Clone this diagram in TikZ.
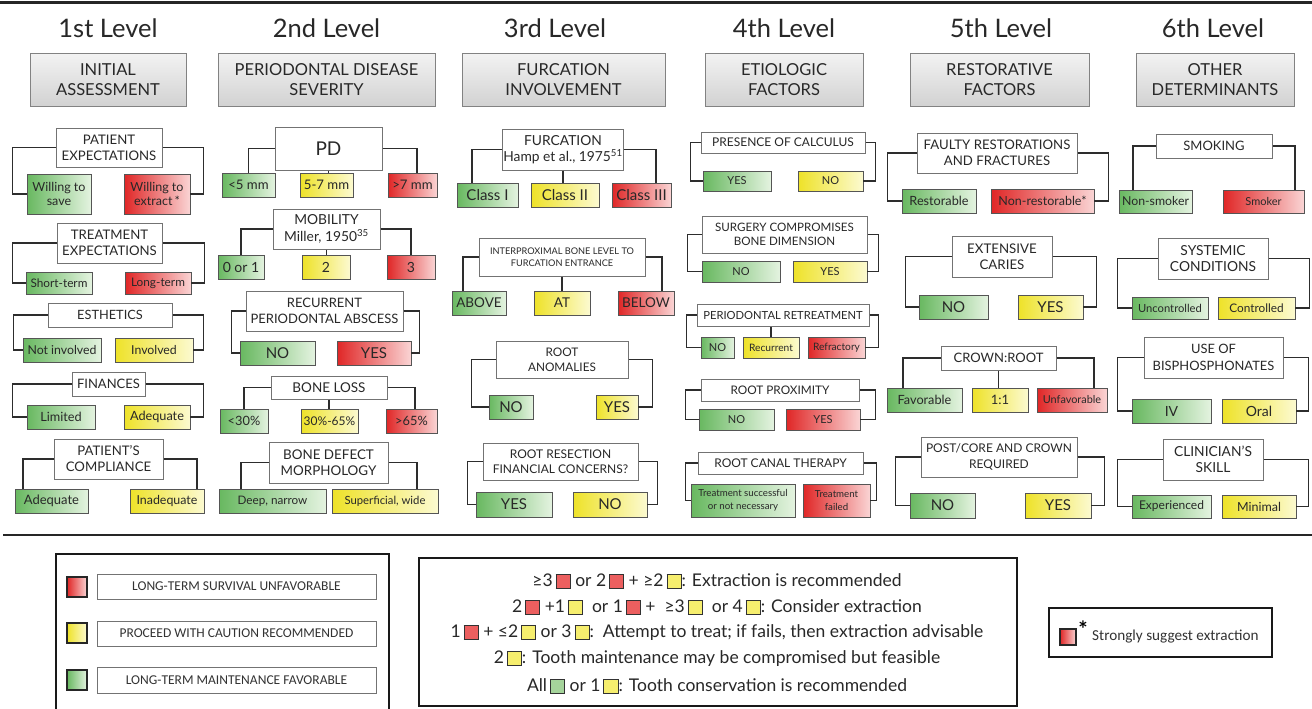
\documentclass[tikz,border=0pt]{standalone}
\usepackage{fontspec}
\setmainfont{Lato}
\newfontfamily\calfont{Carlito}
\usetikzlibrary{shadows}
\definecolor{txt}{RGB}{40,40,40}
\definecolor{hdb}{RGB}{130,130,130}
\definecolor{hdT}{RGB}{242,242,242}
\definecolor{hdB}{RGB}{210,210,210}
\definecolor{qb}{RGB}{115,115,115}
\definecolor{cb}{RGB}{85,85,85}
\definecolor{cl}{RGB}{45,45,45}
\definecolor{gL}{RGB}{104,184,96}
\definecolor{gR}{RGB}{228,243,224}
\definecolor{rL}{RGB}{224,38,38}
\definecolor{rR}{RGB}{250,212,212}
\definecolor{yL}{RGB}{238,226,40}
\definecolor{yR}{RGB}{252,250,208}
\definecolor{sqR}{RGB}{236,95,95}
\definecolor{sqY}{RGB}{246,238,110}
\definecolor{sqG}{RGB}{165,212,155}
\definecolor{sqb}{RGB}{50,50,50}
\newcommand\fs[2]{\fontsize{#1}{#2}\selectfont}
\newcommand\sq[1]{\raisebox{-1.5pt}{\fcolorbox{sqb}{#1}{\rule{0pt}{13.5pt}\rule{13.5pt}{0pt}}}}
\newcommand{\BX}[7]{\node[#1, minimum width={#5-#3}, minimum height={#6-#4}] (#2) at ({(#3+#5)/2},{(#4+#6)/2}) {#7};}
\newcommand\sideC[4]{\draw[conn] (#1.west) -- ++(-#3,0) |- (#2.west);}
\newcommand\sideD[4]{\draw[conn] (#1.east) -- ++(#3,0) |- (#2.east);}
\tikzset{
  base/.style={align=center, text=txt, inner sep=0.5pt},
  shd/.style={drop shadow={shadow xshift=1.3pt,shadow yshift=-1.3pt,opacity=.28}},
  hd/.style={base, draw=hdb, line width=1pt, top color=hdT, bottom color=hdB, font=\fs{16.5}{20}, shd},
  q/.style={base, draw=qb, line width=1pt, fill=white, shd},
  cc/.style={base, draw=cb, line width=0.9pt, inner sep=0pt, shd},
  gC/.style={cc, left color=gL, right color=gR},
  yC/.style={cc, left color=yL, right color=yR},
  rC/.style={cc, left color=rL, right color=rR},
  conn/.style={draw=cl, line width=1.5pt},
  ttl/.style={text=txt, font=\fs{25.5}{28}},
  frame/.style={draw=black!90, line width=1.8pt},
  ltb/.style={draw=black!55, line width=0.8pt, fill=white, text=black!80, font=\calfont\fs{13.5}{15}},
  lsq/.style={draw=black!85, line width=1.2pt, minimum size=20pt, inner sep=0pt},
  et/.style={text=txt, font=\fs{17.5}{20}, inner sep=0pt},
}
\begin{document}
\begin{tikzpicture}[x=1pt,y=-1pt]
\useasboundingbox (0,0) rectangle (1312,709);
\fill[white] (0,0) rectangle (1312,709);
\setlength\fboxsep{0pt}\setlength\fboxrule{0.8pt}
% rules
\draw[line width=3pt, color=black!85] (0,3) -- (1312,3);
\draw[line width=2.5pt, color=black!85] (3,535) -- (1312,535);
% headers and titles
\BX{hd}{H1}{30}{54}{186}{106}{INITIAL\\ASSESSMENT}
\BX{hd}{H2}{218}{54}{435}{106}{PERIODONTAL DISEASE\\SEVERITY}
\BX{hd}{H3}{462}{54}{665}{106}{FURCATION\\INVOLVEMENT}
\BX{hd}{H4}{705}{54}{863}{106}{ETIOLOGIC\\FACTORS}
\BX{hd}{H5}{910}{54}{1089}{106}{RESTORATIVE\\FACTORS}
\BX{hd}{H6}{1136}{54}{1294}{106}{OTHER\\DETERMINANTS}
\node[ttl] (T1) at (108,28) {1st Level};
\node[ttl] (T2) at (326.5,28) {2nd Level};
\node[ttl] (T3) at (555,28) {3rd Level};
\node[ttl] (T4) at (784,28) {4th Level};
\node[ttl] (T5) at (1001,28) {5th Level};
\node[ttl] (T6) at (1213,28) {6th Level};
% ---------- column 1
\BX{q,font=\fs{13.2}{16}}{Q1a}{56}{128}{162}{167}{PATIENT\\EXPECTATIONS}
\BX{gC,font=\fs{12.5}{14}}{C1a1}{27}{174}{91}{214}{Willing to\\save}
\BX{rC,font=\fs{12.5}{14}}{C1a2}{124}{174}{190}{214}{Willing to\\extract\,*}
\sideC{Q1a}{C1a1}{43}{}\sideD{Q1a}{C1a2}{41}{}
\BX{q,font=\fs{13.2}{16}}{Q1b}{57}{223}{162}{263}{TREATMENT\\EXPECTATIONS}
\BX{gC,font=\fs{11.8}{14}}{C1b1}{26}{272}{92}{294}{Short-term}
\BX{rC,font=\fs{11.8}{14}}{C1b2}{125}{272}{191}{294}{Long-term}
\sideC{Q1b}{C1b1}{44}{}\sideD{Q1b}{C1b2}{42}{}
\BX{q,font=\fs{12.8}{15}}{Q1c}{48}{303}{172}{327}{ESTHETICS}
\BX{gC,font=\fs{12.3}{14}}{C1c1}{23}{338}{101}{362}{Not involved}
\BX{yC,font=\fs{12.3}{14}}{C1c2}{115}{338}{193}{362}{Involved}
\sideC{Q1c}{C1c1}{34}{}\sideD{Q1c}{C1c2}{31}{}
\BX{q,font=\fs{13}{15}}{Q1d}{72}{372}{145}{396}{FINANCES}
\BX{gC,font=\fs{12.7}{14}}{C1d1}{27}{405}{95}{429}{Limited}
\BX{yC,font=\fs{12.7}{14}}{C1d2}{124}{405}{190}{429}{Adequate}
\sideC{Q1d}{C1d1}{59}{}\sideD{Q1d}{C1d2}{58}{}
\BX{q,font=\fs{13.2}{16}}{Q1e}{54}{439}{163}{479}{PATIENT'S\\COMPLIANCE}
\BX{gC,font=\fs{13}{14}}{C1e1}{15}{489}{88}{513}{Adequate}
\BX{yC,font=\fs{12.4}{14}}{C1e2}{130}{489}{204}{513}{Inadequate}
\draw[conn] (Q1e.west) -| ([xshift=-28.5pt]C1e1.north);
\draw[conn] (Q1e.east) -| ([xshift=30pt]C1e2.north);
% ---------- column 2
\BX{q,font=\fs{19}{20}}{Q2a}{275}{127}{382}{170}{PD}
\BX{gC,font=\fs{13.2}{14}}{C2a1}{222}{173}{275}{197}{<5 mm}
\BX{yC,font=\fs{13.2}{14}}{C2a2}{300}{173}{353}{197}{5-7 mm}
\BX{rC,font=\fs{13.2}{14}}{C2a3}{388}{173}{437}{197}{>7 mm}
\draw[conn] (Q2a.west) -| (C2a1.north);
\draw[conn] (Q2a.east) -| ([xshift=4.5pt]C2a3.north);
\draw[conn] (Q2a.south) -- (Q2a.south |- C2a2.north);
\BX{q,font=\fs{13.8}{17}}{Q2b}{273}{209}{380}{249}{MOBILITY\\Miller, 1950\textsuperscript{35}}
\BX{gC,font=\fs{14}{15}}{C2b1}{218}{255}{264}{279}{0 or 1}
\BX{yC,font=\fs{14}{15}}{C2b2}{302}{255}{350}{279}{2}
\BX{rC,font=\fs{14}{15}}{C2b3}{387}{255}{435}{279}{3}
\draw[conn] (Q2b.west) -| (C2b1.north);
\draw[conn] (Q2b.east) -| (C2b3.north);
\draw[conn] (Q2b.south) -- (Q2b.south |- C2b2.north);
\BX{q,font=\fs{13}{16}}{Q2c}{246}{291}{403}{331}{RECURRENT\\PERIODONTAL ABSCESS}
\BX{gC,font=\fs{15}{16}}{C2c1}{240}{341}{315}{365}{NO}
\BX{rC,font=\fs{15}{16}}{C2c2}{337}{341}{411}{365}{YES}
\sideC{Q2c}{C2c1}{14}{}\sideD{Q2c}{C2c2}{16}{}
\BX{q,font=\fs{13.5}{15}}{Q2d}{271}{376}{387}{399}{BONE LOSS}
\BX{gC,font=\fs{12.8}{14}}{C2d1}{220}{409}{268}{433}{<30\%}
\BX{yC,font=\fs{12}{14}}{C2d2}{301}{409}{358}{433}{30\%-65\%}
\BX{rC,font=\fs{12.8}{14}}{C2d3}{386}{409}{437}{433}{>65\%}
\draw[conn] (Q2d.west) -| (C2d1.north);
\draw[conn] (Q2d.east) -| ([xshift=3.5pt]C2d3.north);
\draw[conn] (Q2d.south) -- (Q2d.south |- C2d2.north);
\BX{q,font=\fs{13.4}{16.5}}{Q2e}{269}{442}{388}{483}{BONE DEFECT\\MORPHOLOGY}
\BX{gC,font=\fs{11.7}{14}}{C2e1}{219}{489}{326}{513}{Deep, narrow}
\BX{yC,font=\fs{11.3}{14}}{C2e2}{332}{489}{438}{513}{Superficial, wide}
\draw[conn] (Q2e.west) -| ([xshift=-31.5pt]C2e1.north);
\draw[conn] (Q2e.east) -| ([xshift=32pt]C2e2.north);
% ---------- column 3
\BX{q,font=\fs{13.8}{16.5}}{Q3a}{503}{129}{623}{170}{FURCATION\\Hamp et al., 1975\textsuperscript{51}}
\BX{gC,font=\fs{15}{16}}{C3a1}{457}{183}{518}{207}{Class I}
\BX{yC,font=\fs{15}{16}}{C3a2}{531}{183}{599}{207}{Class II}
\BX{rC,font=\fs{15}{16}}{C3a3}{612}{183}{671}{207}{Class III}
\draw[conn] (Q3a.west) -| ([xshift=-15.5pt]C3a1.north);
\draw[conn] (Q3a.east) -| ([xshift=14.5pt]C3a3.north);
\draw[conn] (Q3a.south) -- (Q3a.south |- C3a2.north);
\BX{q,font=\fs{9.2}{12.5}}{Q3b}{479}{238}{645}{276}{INTERPROXIMAL BONE LEVEL TO\\FURCATION ENTRANCE}
\BX{gC,font=\fs{13.5}{15}}{C3b1}{452}{291}{506}{315}{ABOVE}
\BX{yC,font=\fs{13.5}{15}}{C3b2}{534}{291}{590}{315}{AT}
\BX{rC,font=\fs{13.5}{15}}{C3b3}{618}{291}{674}{315}{BELOW}
\draw[conn] (Q3b.west) -| ([xshift=-16pt]C3b1.north);
\draw[conn] (Q3b.east) -| ([xshift=16pt]C3b3.north);
\draw[conn] (Q3b.south) -- (Q3b.south |- C3b2.north);
\BX{q,font=\fs{11.8}{15}}{Q3c}{496}{341}{628}{378}{ROOT\\ANOMALIES}
\BX{gC,font=\fs{15}{16}}{C3c1}{489}{395}{533}{419}{NO}
\BX{yC,font=\fs{15}{16}}{C3c2}{596}{395}{638}{419}{YES}
\sideC{Q3c}{C3c1}{24}{}\sideD{Q3c}{C3c2}{24}{}
\BX{q,font=\fs{12}{15}}{Q3d}{483}{443}{638}{480}{ROOT RESECTION\\FINANCIAL CONCERNS?}
\BX{gC,font=\fs{15}{16}}{C3d1}{476}{492}{552}{517}{YES}
\BX{yC,font=\fs{15}{16}}{C3d2}{573}{492}{647}{517}{NO}
\sideC{Q3d}{C3d1}{15}{}\sideD{Q3d}{C3d2}{19}{}
% ---------- column 4
\BX{q,font=\fs{12}{13}}{Q4a}{701}{132}{865}{153}{PRESENCE OF CALCULUS}
\BX{gC,font=\fs{11}{12}}{C4a1}{703}{171}{771}{191}{YES}
\BX{yC,font=\fs{11}{12}}{C4a2}{798}{171}{863}{191}{NO}
\sideC{Q4a}{C4a1}{10}{}\sideD{Q4a}{C4a2}{10}{}
\BX{q,font=\fs{11.6}{14.5}}{Q4b}{702}{216}{867}{253}{SURGERY COMPROMISES\\BONE DIMENSION}
\BX{gC,font=\fs{11}{12}}{C4b1}{702}{261}{780}{282}{NO}
\BX{yC,font=\fs{11}{12}}{C4b2}{793}{261}{867}{282}{YES}
\sideC{Q4b}{C4b1}{14}{}\sideD{Q4b}{C4b2}{11}{}
\BX{q,font=\fs{11.2}{13}}{Q4c}{697}{304}{869}{326}{PERIODONTAL RETREATMENT}
\BX{gC,font=\fs{11}{12}}{C4c1}{701}{337}{734}{358}{NO}
\BX{yC,font=\fs{10.2}{12}}{C4c2}{743}{337}{799}{358}{Recurrent}
\BX{rC,font=\fs{10.2}{12}}{C4c3}{808}{337}{865}{358}{Refractory}
\sideC{Q4c}{C4c1}{10}{}\sideD{Q4c}{C4c3}{9}{}
\draw[conn] (C4c2.north) -- (C4c2.north |- Q4c.south);
\BX{q,font=\fs{11.8}{13}}{Q4d}{701}{379}{859}{401}{ROOT PROXIMITY}
\BX{gC,font=\fs{11}{12}}{C4d1}{699}{409}{774}{430}{NO}
\BX{rC,font=\fs{11}{12}}{C4d2}{786}{409}{860}{430}{YES}
\sideC{Q4d}{C4d1}{15}{}\sideD{Q4d}{C4d2}{16}{}
\BX{q,font=\fs{12}{13}}{Q4e}{698}{452}{863}{474}{ROOT CANAL THERAPY}
\BX{gC,font=\fs{9.7}{12.5}}{C4e1}{691}{484}{795}{517}{Treatment successful\\or not necessary}
\BX{rC,font=\fs{9.7}{12.5}}{C4e2}{803}{484}{870}{517}{Treatment\\failed}
\sideC{Q4e}{C4e1}{12}{}\sideD{Q4e}{C4e2}{13}{}
% ---------- column 5
\BX{q,font=\fs{13.2}{16}}{Q5a}{917}{133}{1077}{173}{FAULTY RESTORATIONS\\AND FRACTURES}
\BX{gC,font=\fs{12.7}{14}}{C5a1}{902}{189}{976}{213}{Restorable}
\BX{rC,font=\fs{12.5}{14}}{C5a2}{991}{189}{1094}{213}{Non-restorable*}
\sideC{Q5a}{C5a1}{29}{}\sideD{Q5a}{C5a2}{31}{}
\BX{q,font=\fs{13.3}{16.5}}{Q5b}{952}{236}{1052}{277}{EXTENSIVE\\CARIES}
\BX{gC,font=\fs{15}{16}}{C5b1}{919}{295}{988}{319}{NO}
\BX{yC,font=\fs{15}{16}}{C5b2}{1018}{295}{1083}{319}{YES}
\sideC{Q5b}{C5b1}{46}{}\sideD{Q5b}{C5b2}{44}{}
\BX{q,font=\fs{13}{14}}{Q5c}{941}{346}{1056}{370}{CROWN:ROOT}
\BX{gC,font=\fs{12.7}{14}}{C5c1}{887}{388}{962}{412}{Favorable}
\BX{yC,font=\fs{13}{14}}{C5c2}{972}{388}{1028}{412}{1:1}
\BX{rC,font=\fs{10.9}{14}}{C5c3}{1037}{388}{1107}{412}{Unfavorable}
\draw[conn] (Q5c.west) -| ([xshift=-21.5pt]C5c1.north);
\draw[conn] (Q5c.east) -| ([xshift=22pt]C5c3.north);
\draw[conn] (Q5c.south) -- (Q5c.south |- C5c2.north);
\BX{q,font=\fs{12}{15.5}}{Q5d}{921}{437}{1077}{477}{POST/CORE AND CROWN\\REQUIRED}
\BX{gC,font=\fs{15}{16}}{C5d1}{910}{493}{975}{518}{NO}
\BX{yC,font=\fs{15}{16}}{C5d2}{1025}{493}{1091}{518}{YES}
\sideC{Q5d}{C5d1}{25}{}\sideD{Q5d}{C5d2}{27}{}
% ---------- column 6
\BX{q,font=\fs{13}{15}}{Q6a}{1156}{134}{1272}{158}{SMOKING}
\BX{gC,font=\fs{12.3}{14}}{C6a1}{1119}{190}{1192}{213}{Non-smoker}
\BX{rC,font=\fs{11}{14}}{C6a2}{1223}{190}{1304}{213}{Smoker}
\draw[conn] (Q6a.west) -| ([xshift=-22.5pt]C6a1.north);
\draw[conn] (Q6a.east) -| ([xshift=31.5pt]C6a2.north);
\BX{q,font=\fs{13.8}{16.5}}{Q6b}{1158}{238}{1268}{279}{SYSTEMIC\\CONDITIONS}
\BX{gC,font=\fs{11.2}{14}}{C6b1}{1132}{297}{1208}{319}{Uncontrolled}
\BX{yC,font=\fs{11.8}{14}}{C6b2}{1218}{297}{1295}{319}{Controlled}
\sideC{Q6b}{C6b1}{40}{}\sideD{Q6b}{C6b2}{41}{}
\BX{q,font=\fs{12.9}{16.5}}{Q6c}{1144}{337}{1283}{378}{USE OF\\BISPHOSPHONATES}
\BX{gC,font=\fs{14}{15}}{C6c1}{1132}{399}{1211}{423}{IV}
\BX{yC,font=\fs{14}{15}}{C6c2}{1222}{399}{1296}{423}{Oral}
\sideC{Q6c}{C6c1}{26}{}\sideD{Q6c}{C6c2}{25}{}
\BX{q,font=\fs{13.8}{16.5}}{Q6d}{1163}{439}{1263}{480}{CLINICIAN'S\\SKILL}
\BX{gC,font=\fs{12}{14}}{C6d1}{1132}{495}{1211}{518}{Experienced}
\BX{yC,font=\fs{12.5}{14}}{C6d2}{1222}{495}{1296}{518}{Minimal}
\sideC{Q6d}{C6d1}{45}{}\sideD{Q6d}{C6d2}{45}{}
% ---------- legend 1
\draw[frame] (56,712) -- (56,554) -- (389,554) -- (389,712);
\BX{lsq,left color=rL,right color=rR}{S1}{67}{577}{87}{597}{}
\BX{lsq,left color=yL,right color=yR}{S2}{67}{623}{87}{643}{}
\BX{lsq,left color=gL,right color=gR}{S3}{67}{670}{87}{690}{}
\BX{ltb}{L1}{97}{574}{376}{599}{LONG-TERM SURVIVAL UNFAVORABLE}
\BX{ltb}{L2}{97}{621}{376}{646}{PROCEED WITH CAUTION RECOMMENDED}
\BX{ltb}{L3}{97}{667}{376}{693}{LONG-TERM MAINTENANCE FAVORABLE}
% ---------- legend 2
\BX{frame}{B2}{419}{558}{1017}{706}{}
\node[et] (E1) at (717,581) {≥3\,\sq{sqR} or 2\,\sq{sqR} + ≥2\,\sq{sqY}: Extraction is recommended};
\node[et] (E2) at (717,607) {2\,\sq{sqR} +1\,\sq{sqY}\ \ or 1\,\sq{sqR} +\ \ ≥3\,\sq{sqY}\ \ or 4\,\sq{sqY}: Consider extraction};
\node[et] (E3) at (717,633) {1\,\sq{sqR} + ≤2\,\sq{sqY} or 3\,\sq{sqY}:\ \ Attempt to treat; if fails, then extraction advisable};
\node[et] (E4) at (717,659) {2\,\sq{sqY}: Tooth maintenance may be compromised but feasible};
\node[et] (E5) at (717,686) {All\,\sq{sqG} or 1\,\sq{sqY}: Tooth conservation is recommended};
% ---------- legend 3
\BX{frame}{B3}{1049}{608}{1272}{657}{}
\BX{lsq,left color=rL,right color=rR,minimum size=0pt}{S4}{1060}{629}{1076}{645}{}
\node[text=black, font=\bfseries\fs{22}{22}, inner sep=0pt] (AST) at (1083,629) {*};
\node[anchor=west, text=black!80, font=\calfont\fs{15.2}{16}, inner sep=0pt] (X1) at (1092,637) {Strongly suggest extraction};
\end{tikzpicture}
\end{document}
